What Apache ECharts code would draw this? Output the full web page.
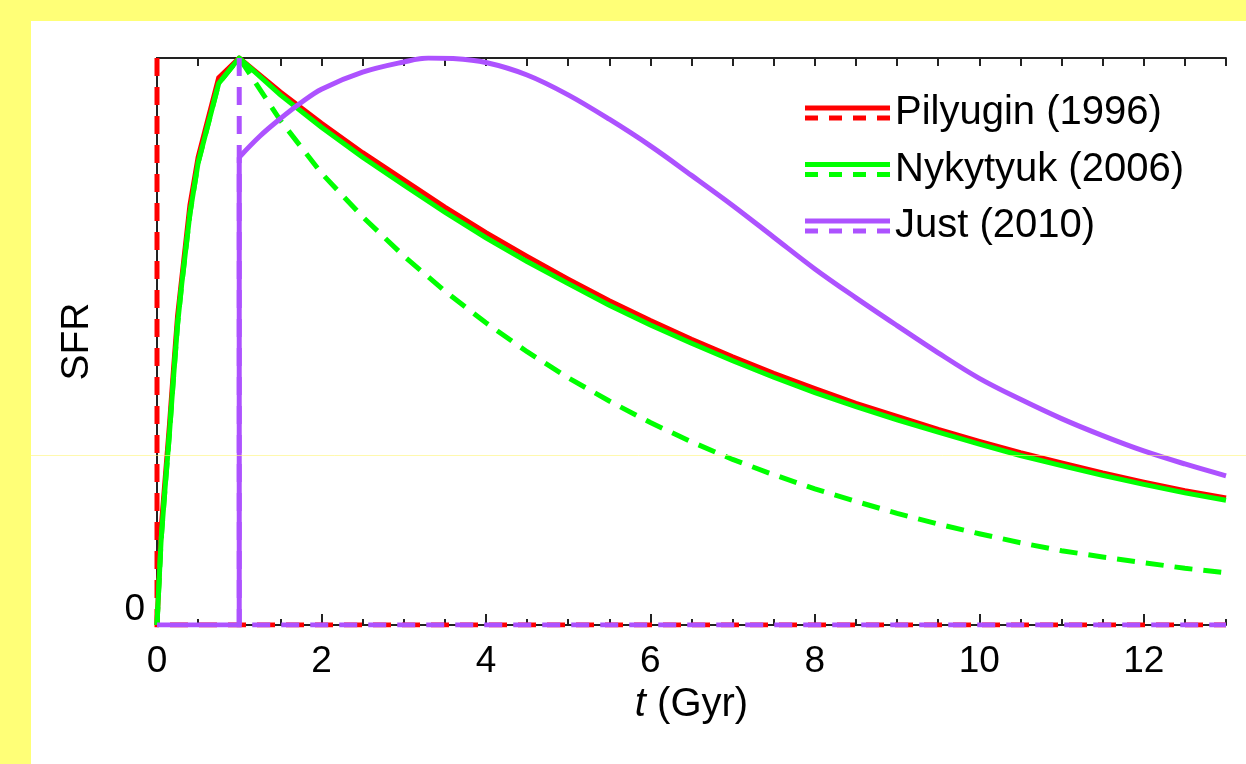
<!DOCTYPE html>
<html>
<head>
<meta charset="utf-8">
<script src="https://cdn.jsdelivr.net/npm/echarts@6/dist/echarts.min.js"></script>
<style>
html,body{margin:0;padding:0;background:#ffff77;}
#chart{width:1246px;height:764px;}
</style>
</head>
<body>
<div id="chart"></div>
<script>
// ---- data (t in Gyr, SFR normalised to peak = 1) ----
var legendNames = ['Pilyugin (1996)', 'Nykytyuk (2006)', 'Just (2010)'];
var xTickLabels = ['0', '2', '4', '6', '8', '10', '12'];

var pilyuginSolid = [[0,0],[0.05,0.17],[0.1,0.26],[0.15,0.35],[0.2,0.45],[0.25,0.545],[0.3,0.61],[0.4,0.74],[0.5,0.825],[0.75,0.965],[1,1],
  [1.5,0.94],[2,0.885],[2.5,0.833],[3,0.785],[3.5,0.737],[4,0.692],[4.5,0.65],[5,0.61],[5.5,0.572],[6,0.537],[6.5,0.504],[7,0.473],
  [7.5,0.444],[8,0.417],[8.5,0.391],[9,0.368],[9.5,0.345],[10,0.324],[10.5,0.304],[11,0.286],[11.5,0.268],[12,0.252],[12.5,0.237],[13,0.224]];
var pilyuginDashed = [[0,1],[0,0],[13,0]];

var nykytyukSolid = [[0,0],[0.05,0.15],[0.1,0.245],[0.15,0.335],[0.2,0.435],[0.25,0.53],[0.3,0.6],[0.4,0.725],[0.5,0.815],[0.75,0.955],[1,1],
  [1.5,0.935],[2,0.878],[2.5,0.825],[3,0.776],[3.5,0.728],[4,0.683],[4.5,0.641],[5,0.602],[5.5,0.564],[6,0.529],[6.5,0.497],[7,0.466],
  [7.5,0.437],[8,0.41],[8.5,0.385],[9,0.362],[9.5,0.34],[10,0.319],[10.5,0.299],[11,0.281],[11.5,0.264],[12,0.248],[12.5,0.233],[13,0.22]];
var nykytyukDashed = [[0,0],[0.05,0.15],[0.1,0.245],[0.15,0.335],[0.2,0.435],[0.25,0.53],[0.3,0.6],[0.4,0.725],[0.5,0.815],[0.75,0.955],[1,1],
  [1.5,0.89],[2,0.797],[2.5,0.72],[3,0.651],[3.5,0.589],[4,0.533],[4.5,0.482],[5,0.436],[5.5,0.395],[6,0.357],[6.5,0.323],[7,0.292],
  [7.5,0.265],[8,0.24],[8.5,0.218],[9,0.197],[9.5,0.178],[10,0.161],[10.5,0.145],[11,0.131],[11.5,0.12],[12,0.11],[12.5,0.1],[13,0.092]];

var justSolid = [[0,0],[1,0],[1,0.825],[1.25,0.862],[1.5,0.893],[1.75,0.921],[2,0.945],[2.5,0.975],[3,0.993],[3.3,1.0],[3.6,0.999],[4,0.992],
  [4.5,0.97],[5,0.935],[5.5,0.892],[6,0.845],[6.5,0.793],[7,0.74],[7.5,0.684],[8,0.628],[8.5,0.577],[9,0.528],[9.5,0.48],[10,0.435],
  [10.5,0.398],[11,0.364],[11.5,0.334],[12,0.307],[12.5,0.284],[13,0.263]];
var justDashed = [[1,1],[1,0],[13,0]];

var RED = '#ff0000', GREEN = '#00ff00', PURPLE = '#ad52ff';
var FONT = 'Liberation Sans';
var LW = 5;

var legendIcon = 'path://M0,0H85V5H0Z M0,10H13V15H0Z M24,10H37V15H24Z M48,10H61V15H48Z M72,10H85V15H72Z';

function line(name, data, color, dashed, z, smooth) {
  return {
    type: 'line', name: name, data: data, showSymbol: false, symbol: 'none',
    animation: false, z: z, xAxisIndex: 0, yAxisIndex: 0,
    smooth: smooth || false,
    lineStyle: {color: color, width: LW, type: dashed ? [18, 11] : 'solid', cap: 'butt', join: 'miter'},
    itemStyle: {color: color}
  };
}

var chart = echarts.init(document.getElementById('chart'), null, {renderer: 'canvas'});
chart.setOption({
  backgroundColor: '#ffff77',
  animation: false,
  textStyle: {fontFamily: FONT},
  graphic: {elements: [
    {type: 'rect', z: -100, silent: true, shape: {x: 31, y: 21, width: 1215, height: 743}, style: {fill: '#ffffff'}},
    {type: 'line', z: 100, silent: true, shape: {x1: 31, y1: 455.5, x2: 1246, y2: 455.5}, style: {stroke: 'rgba(255,245,120,0.6)', lineWidth: 1}}
  ]},
  grid: {left: 157, right: 20, top: 58, bottom: 139, containLabel: false},
  legend: {
    orient: 'vertical', left: 805, top: 86, padding: 0, itemGap: 2.5,
    itemWidth: 85, itemHeight: 15, icon: legendIcon, selectedMode: false,
    textStyle: {fontSize: 40, fontFamily: FONT, color: '#000', lineHeight: 40, padding: [14, 0, 0, 0]},
    data: legendNames
  },
  xAxis: [
    {type: 'value', position: 'bottom', min: 0, max: 13, interval: 2,
     name: '{it|t} (Gyr)', nameLocation: 'middle', nameGap: 58,
     nameTextStyle: {fontSize: 40, color: '#000', fontFamily: FONT, rich: {it: {fontStyle: 'italic', fontSize: 40, fontFamily: FONT, color: '#000'}}},
     axisLine: {show: true, lineStyle: {color: '#222', width: 2}},
     axisTick: {show: true, inside: true, length: 11, lineStyle: {color: '#222', width: 2}},
     axisLabel: {show: true, margin: 18, fontSize: 37, color: '#000', fontFamily: FONT, showMaxLabel: false,
       formatter: function (v) { var i = xTickLabels.indexOf(String(v)); return i >= 0 ? xTickLabels[i] : ''; }},
     splitLine: {show: false}},
    {type: 'value', position: 'bottom', min: 0, max: 13, interval: 0.5,
     axisLine: {show: false}, axisLabel: {show: false}, splitLine: {show: false},
     axisTick: {show: true, inside: true, length: 6, lineStyle: {color: '#222', width: 2}}},
    {type: 'value', position: 'top', min: 0, max: 13, interval: 0.5,
     axisLine: {show: true, lineStyle: {color: '#222', width: 2}}, axisLabel: {show: false}, splitLine: {show: false},
     axisTick: {show: true, inside: true, length: 8, lineStyle: {color: '#222', width: 2}}}
  ],
  yAxis: [
    {type: 'value', position: 'left', min: 0, max: 1, interval: 1,
     name: 'SFR', nameLocation: 'middle', nameGap: 60, nameRotate: 90,
     nameTextStyle: {fontSize: 39, color: '#000', fontFamily: FONT},
     axisLine: {show: true, lineStyle: {color: '#222', width: 2}},
     axisTick: {show: false},
     axisLabel: {show: true, margin: 12, fontSize: 37, color: '#000', fontFamily: FONT,
       verticalAlign: 'bottom', lineHeight: 30,
       formatter: function (v) { return v === 0 ? '0' : ''; }},
     splitLine: {show: false}},
    {type: 'value', position: 'right', min: 0, max: 1, interval: 1,
     axisLine: {show: true, lineStyle: {color: '#222', width: 2}},
     axisTick: {show: false}, axisLabel: {show: false}, splitLine: {show: false}}
  ],
  series: [
    line('Pilyugin (1996)', pilyuginSolid, RED, false, 2),
    line('Pilyugin (1996) delta', pilyuginDashed, RED, true, 3),
    line('Nykytyuk (2006)', nykytyukSolid, GREEN, false, 4),
    line('Nykytyuk (2006) exp', nykytyukDashed, GREEN, true, 5),
    line('Just (2010) step', justSolid.slice(0, 3), PURPLE, false, 6),
    line('Just (2010)', justSolid.slice(2), PURPLE, false, 6, 0.35),
    line('Just (2010) delta', justDashed, PURPLE, true, 7)
  ]
});
</script>
</body>
</html>
